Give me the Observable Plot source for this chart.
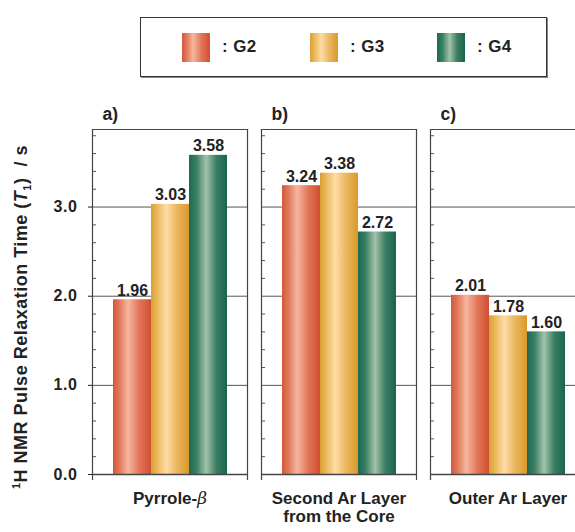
<!DOCTYPE html>
<html>
<head>
<meta charset="utf-8">
<script src="https://cdn.jsdelivr.net/npm/d3@7"></script>
<script src="https://cdn.jsdelivr.net/npm/@observablehq/plot@0.6"></script>
<style>
html, body { margin: 0; padding: 0; overflow: hidden; background: #fff; width: 575px; height: 532px; }
body { font-family: "Liberation Sans", Arial, Helvetica, sans-serif; color: #222; }
#legend { position: relative; width: 575px; height: 90px; }
#legend .box { position: absolute; left: 140px; top: 17px; width: 405px; height: 58px; border: 1.5px solid #333; box-shadow: 1px 1px 0 #888; }
#legend .sw { position: absolute; top: 33px; width: 28px; height: 29px; }
#legend .lb { position: absolute; top: 37px; font-size: 17px; font-weight: bold; line-height: 20px; letter-spacing: 0.4px; }
#chart svg { display: block; overflow: visible; max-width: none !important; }
#chart g[aria-label="y-axis tick label"] text { font-weight: bold; letter-spacing: 0.6px; }
#chart g[aria-label="value labels"] text { letter-spacing: 1.1px; }
#chart g[aria-label="category labels"] text { letter-spacing: 1px; }
#chart g[aria-label="panel tags"] text { letter-spacing: 0.5px; }
</style>
</head>
<body>
<div id="legend"><div class="box"></div></div>
<div id="chart"></div>
<script>
// ---- data ----
const categories = ["Pyrrole-β", "Second Ar Layer\nfrom the Core", "Outer Ar Layer"];
const tags = ["a)", "b)", "c)"];
const groups = ["G2", "G3", "G4"];
const g2Values = [1.96, 3.24, 2.01];
const g3Values = [3.03, 3.38, 1.78];
const g4Values = [3.58, 2.72, 1.60];
const yTicks = [0, 1, 2, 3];
const minorTicks = [0.2, 0.4, 0.6, 0.8, 1.2, 1.4, 1.6, 1.8, 2.2, 2.4, 2.6, 2.8, 3.2, 3.4, 3.6, 3.8];
const yLabel = "1H NMR Pulse Relaxation Time (T1) / s";

// gradient colours (left edge, highlight, right edge)
const gradStops = {
  G2: [[0, "#d2573a"], [0.18, "#e27c5e"], [0.4, "#f6b6a0"], [0.7, "#e27456"], [1, "#cf4f31"]],
  G3: [[0, "#dc9f34"], [0.18, "#ebbb60"], [0.4, "#fddca6"], [0.7, "#eab55a"], [1, "#d99a2c"]],
  G4: [[0, "#1c6950"], [0.2, "#3b8066"], [0.45, "#a2c3aa"], [0.72, "#3a7f64"], [1, "#1a644c"]]
};

const seriesValues = [g2Values, g3Values, g4Values];
const data = categories.flatMap((cat, i) => groups.map((g, j) => ({cat, group: g, value: seriesValues[j][i]})));
const panels = categories.map((cat, i) => ({cat, tag: tags[i]}));

// ---- layout ----
const width = 590, height = 442, marginLeft = 92, marginRight = 5, marginTop = 39, marginBottom = 58;
const fxPad = 0.083;
const panelW = (width - marginLeft - marginRight) / (categories.length - fxPad) * (1 - fxPad);

const chart = Plot.plot({
  width, height, marginLeft, marginRight, marginTop, marginBottom,
  style: {fontFamily: "'Liberation Sans', Arial, Helvetica, sans-serif", fontSize: "16px", color: "#222", background: "transparent"},
  fx: {domain: categories, paddingInner: fxPad, paddingOuter: 0, axis: null, label: null},
  x: {domain: groups, paddingInner: 0, paddingOuter: 0.52, axis: null},
  y: {domain: [0, 3.87]},
  color: {type: "identity"},
  marks: [
    Plot.ruleY(minorTicks, {insetRight: panelW - 4, stroke: "#555", strokeWidth: 1}),
    Plot.ruleY(yTicks.slice(1), {stroke: "#555", strokeWidth: 1}),
    Plot.barY(data, {fx: "cat", x: "group", y: "value", fill: d => `url(#grad-${d.group})`}),
    Plot.ruleY([0], {stroke: "#444", strokeWidth: 1.3}),
    Plot.frame({anchor: "top", stroke: "#444", strokeWidth: 1.2}),
    Plot.frame({anchor: "left", stroke: "#444", strokeWidth: 1.2, insetBottom: -5}),
    Plot.frame({anchor: "right", stroke: "#444", strokeWidth: 1.2, insetBottom: -5}),
    Plot.text(data, {ariaLabel: "value labels", fx: "cat", x: "group", y: "value", text: d => d.value.toFixed(2), dy: -4, lineAnchor: "bottom", fontSize: 16, fontWeight: "bold", fill: "#222"}),
    Plot.text(panels, {ariaLabel: "panel tags", fx: "cat", text: "tag", frameAnchor: "top-left", dx: 10, dy: -10, lineAnchor: "bottom", fontSize: 17.5, fontWeight: "bold", fill: "#222"}),
    Plot.text(panels, {ariaLabel: "category labels", fx: "cat", text: "cat", frameAnchor: "bottom", dy: 16, lineAnchor: "top", lineHeight: 1.1, fontSize: 17, fontWeight: "bold", fill: "#222"}),
    Plot.axisY({ticks: yTicks, tickFormat: d3.format(".1f"), tickSize: 4, tickPadding: 11, fontSize: 16, label: yLabel, labelAnchor: "center", labelOffset: 78, labelArrow: "none"})
  ]
});

document.getElementById("chart").appendChild(chart);

// gradients
const svg = d3.select(chart);
const defs = svg.insert("defs", ":first-child");
for (const g of groups) {
  const lg = defs.append("linearGradient").attr("id", `grad-${g}`).attr("x1", 0).attr("x2", 1).attr("y1", 0).attr("y2", 0);
  for (const [o, c] of gradStops[g]) lg.append("stop").attr("offset", o).attr("stop-color", c);
}

// italic beta
svg.selectAll("text, tspan").each(function() {
  if (this.childElementCount === 0 && this.textContent.includes("β")) {
    const t = this.textContent;
    const sel = d3.select(this);
    sel.text(null);
    sel.append("tspan").text(t.replace("β", ""));
    sel.append("tspan").attr("font-style", "italic").attr("font-family", "'DejaVu Serif', serif").attr("font-weight", "normal").text("β");
  }
});

// y label with superscript / italic subscript
svg.selectAll('g[aria-label="y-axis label"] text').each(function() {
  const t = d3.select(this);
  t.text(null).attr("font-weight", "bold").attr("font-size", 18).attr("dx", -15).style("letter-spacing", "0.5px");
  t.append("tspan").attr("font-size", 11).attr("dy", -7).text("1");
  t.append("tspan").attr("dy", 7).text("H NMR Pulse Relaxation Time (");
  t.append("tspan").attr("font-style", "italic").text("T");
  t.append("tspan").attr("font-size", 11).attr("dy", 4).text("1");
  t.append("tspan").attr("dy", -4).text(")  / s");
});

// legend (HTML)
const legend = d3.select("#legend");
const swLeft = [182, 310, 437];
groups.forEach((g, i) => {
  const css = "linear-gradient(to right, " + gradStops[g].map(([o, c]) => `${c} ${o * 100}%`).join(", ") + ")";
  legend.append("div").attr("class", "sw").style("left", swLeft[i] + "px").style("background", css);
  legend.append("div").attr("class", "lb").style("left", (swLeft[i] + 40) + "px").text(": " + g);
});
</script>
</body>
</html>
